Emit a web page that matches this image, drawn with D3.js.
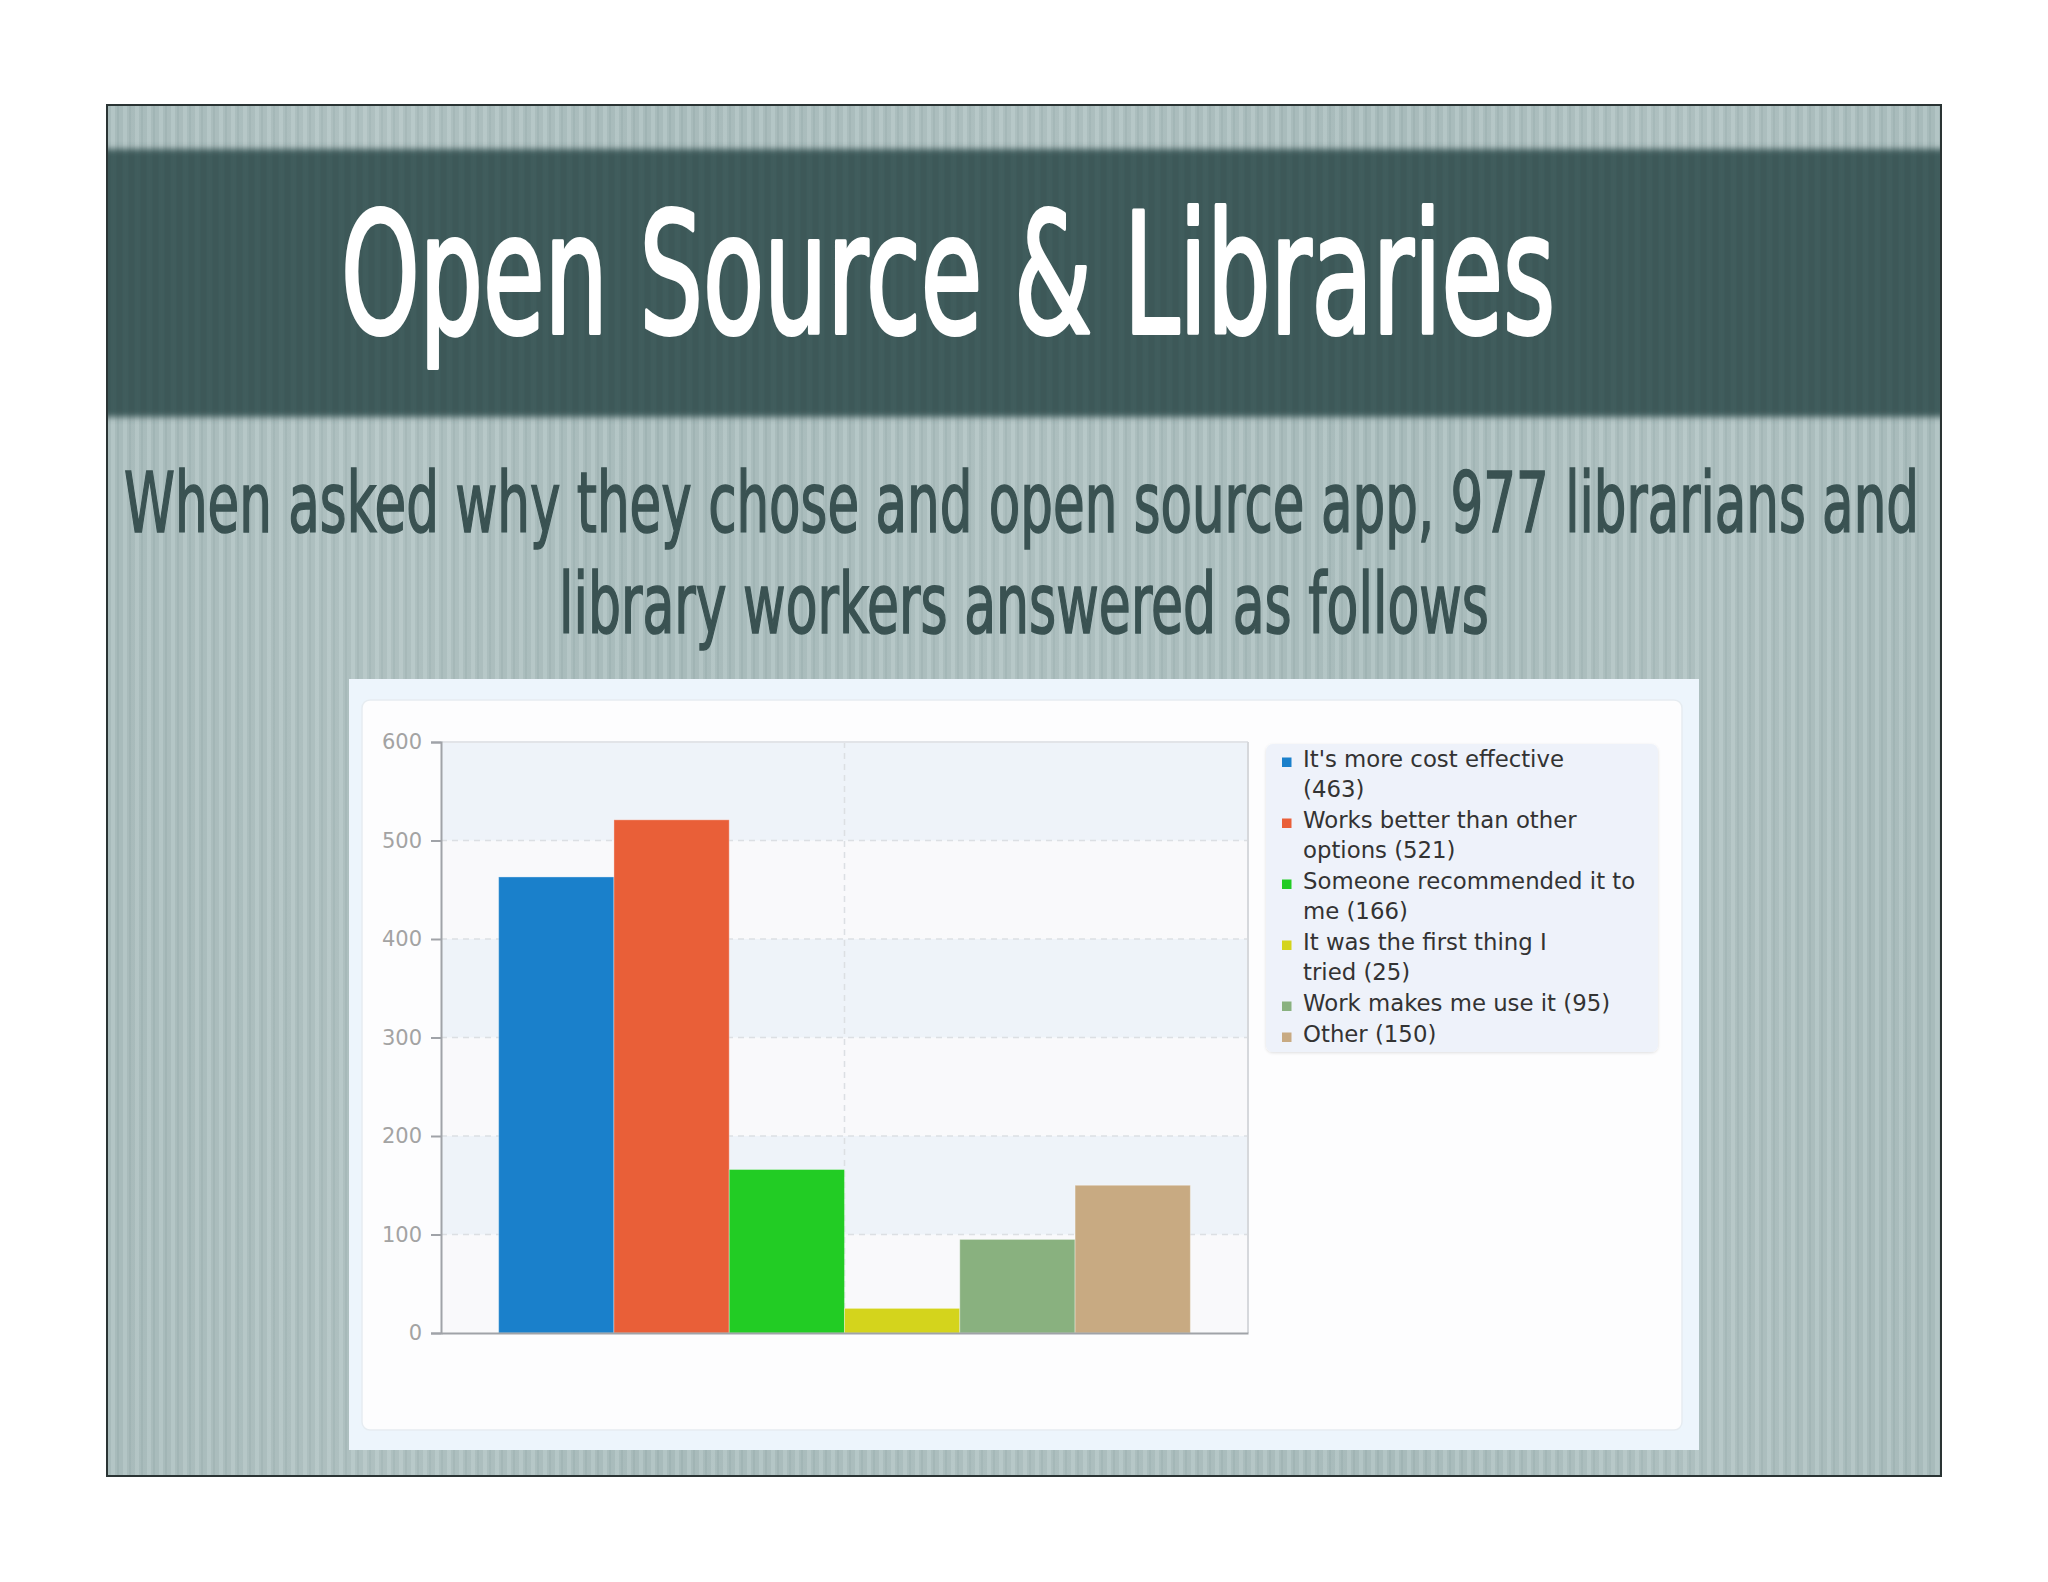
<!DOCTYPE html>
<html>
<head>
<meta charset="utf-8">
<script src="https://cdn.jsdelivr.net/npm/d3@7"></script>
<style>
  html, body { margin: 0; padding: 0; background: #ffffff; }
  svg { display: block; }
</style>
</head>
<body>
<svg id="chart" width="2048" height="1582"></svg>
<script>
// ---------- data ----------
const titleText = "Open Source & Libraries";
const subtitleLines = [
  "When asked why they chose and open source app, 977 librarians and",
  "library workers answered as follows"
];
const categories = [
  "It's more cost effective",
  "Works better than other options",
  "Someone recommended it to me",
  "It was the first thing I tried",
  "Work makes me use it",
  "Other"
];
const values = [463, 521, 166, 25, 95, 150];
const colors = ["#1a80cb", "#e95f38", "#22cc24", "#d4d41c", "#89b17f", "#c8aa82"];
const legendWordsFirstLine = [4, 4, 4, 6, 99, 99];
const yTicks = [0, 100, 200, 300, 400, 500, 600];

// ---------- layout ----------
const svg = d3.select("#chart");
const defs = svg.append("defs");

// stripe patterns
const pLight = defs.append("pattern").attr("id", "stripeLight")
  .attr("patternUnits", "userSpaceOnUse").attr("width", 12).attr("height", 10);
pLight.append("rect").attr("width", 12).attr("height", 10).attr("fill", "#a8bbbb");
pLight.append("rect").attr("x", 3).attr("width", 4).attr("height", 10).attr("fill", "#b3c5c5");
pLight.append("rect").attr("x", 9).attr("width", 2).attr("height", 10).attr("fill", "#a0b4b4");

const pDark = defs.append("pattern").attr("id", "stripeDark")
  .attr("patternUnits", "userSpaceOnUse").attr("width", 12).attr("height", 10);
pDark.append("rect").attr("width", 12).attr("height", 10).attr("fill", "#375252");
pDark.append("rect").attr("x", 3).attr("width", 5).attr("height", 10).attr("fill", "#466363");

const blur = defs.append("filter").attr("id", "soft").attr("x", "-5%").attr("y", "-20%").attr("width", "110%").attr("height", "140%");
blur.append("feGaussianBlur").attr("stdDeviation", 3);

const shadow = defs.append("filter").attr("id", "shadow").attr("x", "-5%").attr("y", "-5%").attr("width", "110%").attr("height", "110%");
shadow.append("feDropShadow").attr("dx", 0).attr("dy", 1).attr("stdDeviation", 1.5).attr("flood-color", "#000").attr("flood-opacity", 0.12);

// broad tonal variation across the slide
const broad = defs.append("linearGradient").attr("id", "broad").attr("x1", 0).attr("x2", 1).attr("y1", 0).attr("y2", 0);
[[0, 0.00], [0.15, 0.08], [0.3, 0.0], [0.5, 0.06], [0.7, 0.0], [0.85, 0.07], [1, 0.0]].forEach(([o, a]) =>
  broad.append("stop").attr("offset", o).attr("stop-color", "#ffffff").attr("stop-opacity", a));

const slide = { x0: 107, y0: 105, x1: 1941, y1: 1476 };

const slideG = svg.append("g");
slideG.append("rect")
  .attr("x", slide.x0).attr("y", slide.y0)
  .attr("width", slide.x1 - slide.x0).attr("height", slide.y1 - slide.y0)
  .attr("fill", "url(#stripeLight)");
slideG.append("rect")
  .attr("x", slide.x0).attr("y", slide.y0)
  .attr("width", slide.x1 - slide.x0).attr("height", slide.y1 - slide.y0)
  .attr("fill", "url(#broad)");

// dark title band
const clip = defs.append("clipPath").attr("id", "slideClip");
clip.append("rect").attr("x", slide.x0).attr("y", slide.y0)
  .attr("width", slide.x1 - slide.x0).attr("height", slide.y1 - slide.y0);
slideG.append("rect")
  .attr("clip-path", "url(#slideClip)")
  .attr("x", slide.x0 - 20).attr("y", 149)
  .attr("width", slide.x1 - slide.x0 + 40).attr("height", 268)
  .attr("fill", "url(#stripeDark)")
  .attr("filter", "url(#soft)");

// slide border
slideG.append("rect")
  .attr("x", slide.x0).attr("y", slide.y0)
  .attr("width", slide.x1 - slide.x0).attr("height", slide.y1 - slide.y0)
  .attr("fill", "none").attr("stroke", "#2a3434").attr("stroke-width", 2);

// title
svg.append("text")
  .attr("x", 341).attr("y", 333)
  .attr("textLength", 1214).attr("lengthAdjust", "spacingAndGlyphs")
  .attr("font-family", "'DejaVu Sans Condensed', 'DejaVu Sans', sans-serif")
  .attr("font-size", 168)
  .attr("fill", "#ffffff")
  .attr("stroke", "#ffffff").attr("stroke-width", 4).attr("stroke-linejoin", "round")
  .text(titleText);

// subtitle
const subSpecs = [
  { x: 124, w: 1795, y: 532 },
  { x: 559, w: 930, y: 633 }
];
svg.selectAll("text.sub").data(subtitleLines).join("text")
  .attr("class", "sub")
  .attr("x", (d, i) => subSpecs[i].x)
  .attr("y", (d, i) => subSpecs[i].y)
  .attr("textLength", (d, i) => subSpecs[i].w)
  .attr("lengthAdjust", "spacingAndGlyphs")
  .attr("font-family", "'DejaVu Sans Condensed', 'DejaVu Sans', sans-serif")
  .attr("font-size", 83)
  .attr("fill", "#3a5252")
  .attr("stroke", "#3a5252").attr("stroke-width", 1.6)
  .text(d => d);

// chart panel
svg.append("rect").attr("x", 349).attr("y", 679).attr("width", 1350).attr("height", 771).attr("fill", "#edf5fc");
svg.append("rect").attr("x", 362).attr("y", 700).attr("width", 1320).attr("height", 730)
  .attr("rx", 8).attr("fill", "#fdfdfe").attr("stroke", "#e6ecf1").attr("stroke-width", 1.5);

// plot
const plot = { left: 441, right: 1248, top: 742, bottom: 1333 };
const x = d3.scaleBand().domain(categories).range([plot.left, plot.right]).paddingInner(0).paddingOuter(0.5);
const y = d3.scaleLinear().domain([0, 600]).range([plot.bottom, plot.top]);

const g = svg.append("g");
// alternating bands
const bandPairs = d3.pairs(yTicks);
g.selectAll("rect.band").data(bandPairs).join("rect")
  .attr("class", "band")
  .attr("x", plot.left).attr("width", plot.right - plot.left)
  .attr("y", d => y(d[1])).attr("height", d => y(d[0]) - y(d[1]))
  .attr("fill", (d, i) => i % 2 === 1 ? "#eef3f9" : "#f9f9fb");

// horizontal dashed grid
g.selectAll("line.hgrid").data(yTicks.slice(1, -1)).join("line")
  .attr("class", "hgrid")
  .attr("x1", plot.left).attr("x2", plot.right)
  .attr("y1", d => y(d)).attr("y2", d => y(d))
  .attr("stroke", "#dcdfe3").attr("stroke-width", 1.5).attr("stroke-dasharray", "6,5");

// vertical dashed grid at centre
const midX = (x(categories[2]) + x.bandwidth() + x(categories[3])) / 2;
g.append("line")
  .attr("x1", midX).attr("x2", midX).attr("y1", plot.top).attr("y2", plot.bottom)
  .attr("stroke", "#dcdfe3").attr("stroke-width", 1.5).attr("stroke-dasharray", "6,5");

// plot frame (top and right)
g.append("line").attr("x1", plot.left).attr("x2", plot.right).attr("y1", plot.top).attr("y2", plot.top)
  .attr("stroke", "#e2e4e8").attr("stroke-width", 2);
g.append("line").attr("x1", plot.right).attr("x2", plot.right).attr("y1", plot.top).attr("y2", plot.bottom)
  .attr("stroke", "#d6d8dc").attr("stroke-width", 2);

// bars
g.selectAll("rect.bar").data(values).join("rect")
  .attr("class", "bar")
  .attr("x", (d, i) => x(categories[i]))
  .attr("width", x.bandwidth())
  .attr("y", d => y(d))
  .attr("height", d => y(0) - y(d))
  .attr("fill", (d, i) => colors[i])
  .attr("stroke", "#ffffff").attr("stroke-opacity", 0.35).attr("stroke-width", 1);

// y axis
const yAxis = d3.axisLeft(y).tickValues(yTicks).tickSize(10).tickPadding(9);
const ya = svg.append("g").attr("transform", `translate(${plot.left},0)`).call(yAxis);
ya.select(".domain").attr("stroke", "#a0a3a8").attr("stroke-width", 2);
ya.selectAll(".tick line").attr("stroke", "#a0a3a8").attr("stroke-width", 2);
ya.selectAll(".tick text")
  .attr("font-family", "'DejaVu Sans', sans-serif").attr("font-size", 21)
  .attr("fill", "#a3a3a3");

// x axis baseline
const xAxis = d3.axisBottom(x).tickSize(0).tickFormat("");
const xa = svg.append("g").attr("transform", `translate(0,${plot.bottom})`).call(xAxis);
xa.select(".domain").attr("stroke", "#a0a3a8").attr("stroke-width", 2);

// legend
const lg = svg.append("g");
lg.append("rect").attr("x", 1266).attr("y", 744).attr("width", 392).attr("height", 308)
  .attr("rx", 7).attr("fill", "#eef2fa").attr("filter", "url(#shadow)");

const lineH = 30, itemGap = 1;
let baseY = 767;
categories.forEach((name, i) => {
  const words = `${name} (${values[i]})`.split(" ");
  const n = legendWordsFirstLine[i];
  const lines = words.length > n ? [words.slice(0, n).join(" "), words.slice(n).join(" ")] : [words.join(" ")];
  lg.append("rect").attr("x", 1282).attr("y", baseY - 9.5).attr("width", 9.5).attr("height", 9.5)
    .attr("fill", colors[i]);
  const t = lg.append("text").attr("font-family", "'DejaVu Sans', sans-serif").attr("font-size", 22.8)
    .attr("fill", "#333333");
  lines.forEach((ln, j) => {
    t.append("tspan").attr("x", 1303).attr("y", baseY + j * lineH).text(ln);
  });
  baseY += lines.length * lineH + itemGap;
});
</script>
</body>
</html>
